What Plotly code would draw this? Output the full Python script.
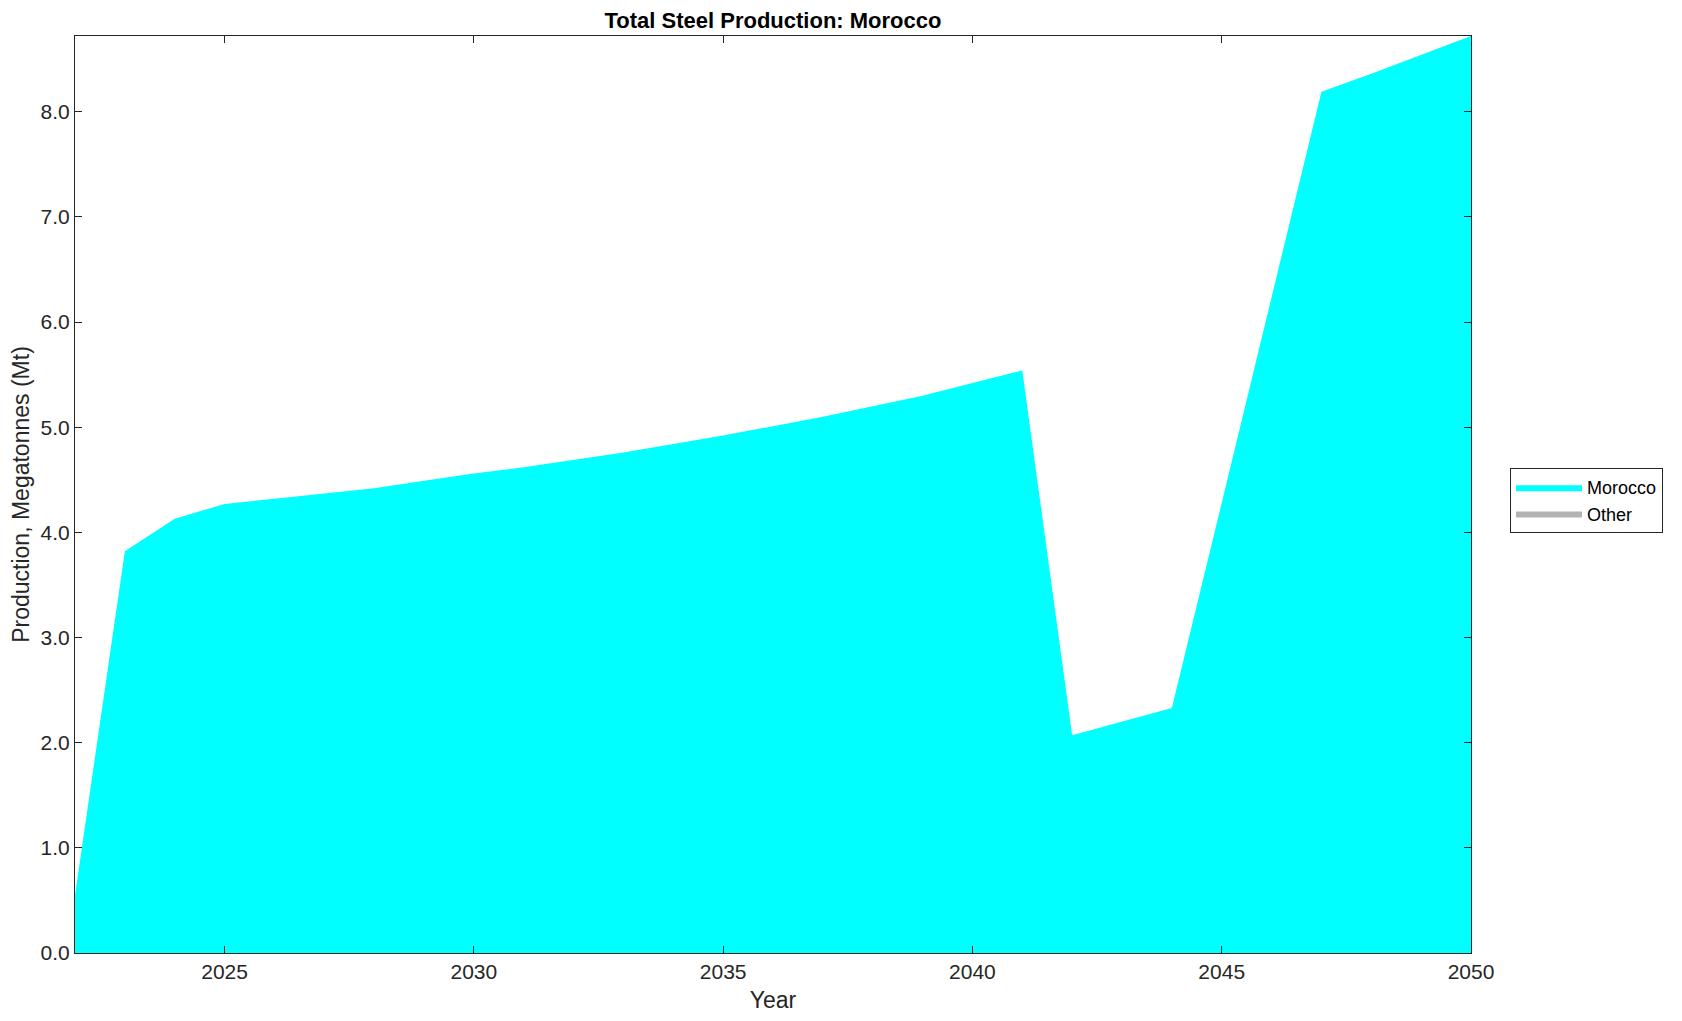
import plotly.graph_objects as go

years = list(range(2022, 2051))
morocco = [0.55, 3.82, 4.13, 4.27, 4.32, 4.37, 4.42, 4.49, 4.56, 4.62, 4.69, 4.76, 4.84,
           4.92, 5.01, 5.10, 5.20, 5.30, 5.42, 5.54, 2.07, 2.20, 2.33, 4.28, 6.24, 8.19,
           8.36, 8.54, 8.72]
other = [0.0] * len(years)
series_names = ["Morocco", "Other"]
series_colors = ["#00ffff", "#b3b3b3"]
x_ticks = [2025, 2030, 2035, 2040, 2045, 2050]

# page body has an 8px margin; figure is shrunk accordingly
OFF = 8
W, H = 1682 - 2 * OFF, 1021 - 2 * OFF
L, T = 75 - OFF, 36 - OFF
R = W - (1471 - OFF)
B = H - (953 - OFF)
font = "Liberation Sans, Arial, Helvetica, sans-serif"
ink = "#262626"

fig = go.Figure()
fig.add_trace(go.Scatter(x=years, y=morocco, name=series_names[0], mode="lines",
                         line=dict(width=0, color=series_colors[0]),
                         fillcolor=series_colors[0], stackgroup="one"))
fig.add_trace(go.Scatter(x=years, y=other, name=series_names[1], mode="lines",
                         line=dict(width=0, color=series_colors[1]),
                         fillcolor=series_colors[1], stackgroup="one"))

axis_common = dict(showline=True, linecolor=ink, linewidth=1, mirror="ticks",
                   ticks="inside", ticklen=7, tickcolor=ink, showgrid=False, zeroline=False,
                   tickfont=dict(family=font, size=21, color=ink))

fig.update_xaxes(range=[2022, 2050], tickvals=x_ticks,
                 title=dict(text="Year", font=dict(family=font, size=23, color=ink), standoff=10),
                 **axis_common)
fig.update_yaxes(range=[0, 8.72], dtick=1, tickformat=".1f",
                 title=dict(text="Production, Megatonnes (Mt)", font=dict(family=font, size=23, color=ink), standoff=6),
                 **axis_common)

pw = W - L - R
ph = H - T - B
fig.update_layout(
    width=W, height=H,
    margin=dict(l=L, r=R, t=T, b=B, autoexpand=False),
    plot_bgcolor="white", paper_bgcolor="white",
    title=dict(text="<b>Total Steel Production: Morocco</b>", x=(L + pw / 2) / W, xanchor="center",
               y=1 - (20 - OFF) / H, yanchor="middle", font=dict(family=font, size=22, color="black")),
    legend=dict(x=(1510 - 75) / pw, y=(953 - 468) / ph, xanchor="left", yanchor="top",
                bordercolor=ink, borderwidth=1, bgcolor="white",
                font=dict(family=font, size=18, color="black"), traceorder="normal",
                tracegroupgap=0, itemwidth=66),
    showlegend=True,
)

fig.write_html("out.html")
